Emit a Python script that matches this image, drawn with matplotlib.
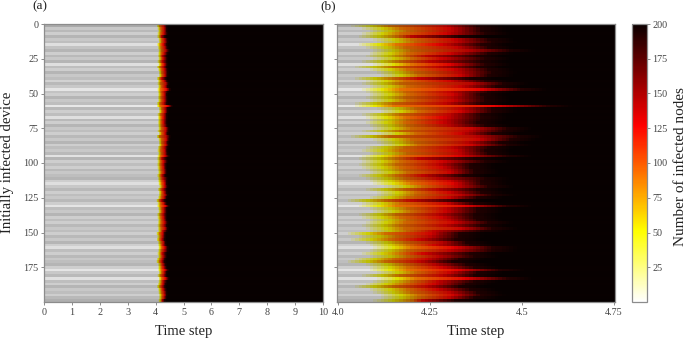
import numpy as np
import matplotlib
matplotlib.use("Agg")
import matplotlib.pyplot as plt

plt.rcParams['font.family'] = ['Liberation Serif', 'DejaVu Serif']

# Per-group readings (each group = 2 devices): time at which the count reaches
# roughly 50 (yellow), 125 (red) and 190 (near black)
t_yellow = [4.09,4.12,4.14,4.12,4.11,4.15,4.16,4.11,4.13,4.15,4.14,4.13,4.15,4.12,4.15,4.10,4.14,4.16,4.17,4.10,4.13,4.12,4.14,4.12,4.13,
            4.14,4.13,4.14,4.10,4.10,4.16,4.17,4.12,4.13,4.14,4.13,4.14,4.15,4.12,4.16,4.09,4.15,4.16,4.17,4.13,4.12,4.14,4.12,4.11,4.12,
            4.11,4.12,4.13,4.14,4.11,4.13,4.14,4.15,4.18,4.13,4.16,4.16,4.14,4.08,4.12,4.11,4.14,4.15,4.11,4.12,4.14,4.13,4.12,4.13,4.14,
            4.08,4.11,4.09,4.13,4.14,4.15,4.14,4.12,4.14,4.10,4.08,4.13,4.14,4.14,4.16,4.12,4.16,4.15,4.13,4.10,4.14,4.15,4.17,4.17,4.15]
t_red = [4.29,4.30,4.31,4.29,4.20,4.31,4.32,4.27,4.32,4.35,4.30,4.24,4.28,4.25,4.30,4.27,4.31,4.33,4.33,4.22,4.30,4.36,4.33,4.38,4.30,
         4.31,4.31,4.31,4.29,4.42,4.33,4.33,4.30,4.28,4.29,4.28,4.30,4.36,4.35,4.33,4.37,4.38,4.35,4.36,4.31,4.32,4.33,4.32,4.22,4.28,
         4.27,4.28,4.30,4.30,4.23,4.27,4.30,4.31,4.32,4.27,4.30,4.33,4.30,4.20,4.29,4.34,4.29,4.29,4.27,4.28,4.30,4.31,4.29,4.33,4.26,
         4.25,4.25,4.22,4.28,4.26,4.31,4.30,4.23,4.27,4.24,4.22,4.26,4.28,4.32,4.30,4.28,4.34,4.27,4.26,4.24,4.27,4.30,4.31,4.30,4.23]
t_black = [4.38,4.39,4.39,4.40,4.33,4.41,4.42,4.39,4.41,4.47,4.41,4.38,4.40,4.39,4.40,4.38,4.41,4.42,4.41,4.36,4.40,4.45,4.43,4.50,4.41,
           4.39,4.40,4.40,4.39,4.57,4.42,4.42,4.39,4.39,4.39,4.38,4.40,4.46,4.45,4.42,4.49,4.47,4.44,4.46,4.41,4.40,4.41,4.46,4.37,4.40,
           4.36,4.36,4.37,4.37,4.34,4.40,4.39,4.39,4.41,4.38,4.39,4.42,4.38,4.33,4.37,4.46,4.38,4.38,4.37,4.37,4.38,4.41,4.39,4.42,4.39,
           4.33,4.33,4.32,4.35,4.36,4.42,4.42,4.36,4.37,4.33,4.31,4.35,4.37,4.44,4.38,4.37,4.46,4.37,4.35,4.33,4.36,4.38,4.39,4.37,4.32]
# Brightness (0-255) of the grid-line veil over each group
row_shade = [170,200,185,205,180,200,190,222,195,180,205,185,200,180,222,190,205,180,200,190,210,185,200,228,195,
             205,180,200,190,232,185,205,190,222,185,205,180,200,190,205,185,200,180,205,190,200,185,226,180,205,
             190,205,185,200,190,180,205,222,200,185,205,190,200,185,205,228,190,200,180,205,190,205,185,200,190,
             205,185,200,180,205,222,190,205,185,200,190,180,205,228,200,185,224,190,205,180,200,190,205,185,175]

device_ticks = [0, 25, 50, 75, 100, 125, 150, 175]
time_ticks_a = [0, 1, 2, 3, 4, 5, 6, 7, 8, 9, 10]
time_ticks_b = [4.0, 4.25, 4.5, 4.75]
time_labels_b = ['4.0', '4.25', '4.5', '4.75']
cbar_ticks = [25, 50, 75, 100, 125, 150, 175, 200]

W, H = 685, 340
fig = plt.figure(figsize=(W / 100, H / 100), dpi=100)
GREY = '#8c8c8c'
TXT = '#222222'
TICK_TXT = '#444444'

def box(l, t, r, b):
    return [l / W, 1 - b / H, (r - l) / W, (b - t) / H]

time = np.arange(0, 10.001, 0.01)
counts = np.array([
    np.interp(time, [y - 0.06, y, y + 0.05, r, b, b + 0.07], [0, 50, 88, 125, 190, 200])
    for y, r, b in zip(t_yellow, t_red, t_black)])
veil = 1 - np.array(row_shade)[:, None] / 255
extent = [0, 10, 200, 0]

def panel(rect, xlim):
    ax = fig.add_axes(box(*rect))
    ax.imshow(counts, cmap='hot_r', vmin=0, vmax=200, extent=extent,
              aspect='auto', interpolation='nearest')
    ax.imshow(np.zeros_like(veil), cmap='gray', vmin=0, vmax=1, alpha=veil, extent=extent,
              aspect='auto', interpolation='nearest')
    ax.set_xlim(*xlim)
    ax.set_ylim(200, 0)
    ax.set_yticks(device_ticks)
    for s in ax.spines.values():
        s.set_color(GREY)
        s.set_linewidth(0.9)
    ax.tick_params(color=GREY, labelcolor=TICK_TXT, labelsize=7.3, length=2, width=0.7, pad=2)
    return ax

ax_a = panel((44, 24, 323, 302), (0, 10))
ax_a.set_xticks(time_ticks_a)
ax_b = panel((337, 24, 615, 302), (3.997, 4.753))
ax_b.set_xticks(time_ticks_b, time_labels_b)
ax_b.set_yticklabels([])

cax = fig.add_axes(box(632, 24, 647, 302))
mappable = plt.cm.ScalarMappable(norm=plt.Normalize(0, 200), cmap='hot_r')
cb = fig.colorbar(mappable, cax=cax)
cb.set_ticks(cbar_ticks)
cb.outline.set_edgecolor(GREY)
cb.outline.set_linewidth(0.9)
cax.tick_params(color=GREY, labelcolor=TICK_TXT, labelsize=7.3, length=2, width=0.7, pad=2)

def px_text(x, y, s, **kw):
    fig.text(x / W, 1 - y / H, s, color=TXT, ha='center', va='center', **kw)

px_text(40, 6, '(a)', fontsize=9.5)
px_text(328, 6, '(b)', fontsize=9.5)
px_text(184, 331, 'Time step', fontsize=10.5)
px_text(476, 331, 'Time step', fontsize=10.5)
px_text(7, 162, 'Initially infected device', fontsize=10.7, rotation=90)
px_text(680, 167, 'Number of infected nodes', fontsize=11, rotation=90)

fig.savefig('out.png', dpi=100)
